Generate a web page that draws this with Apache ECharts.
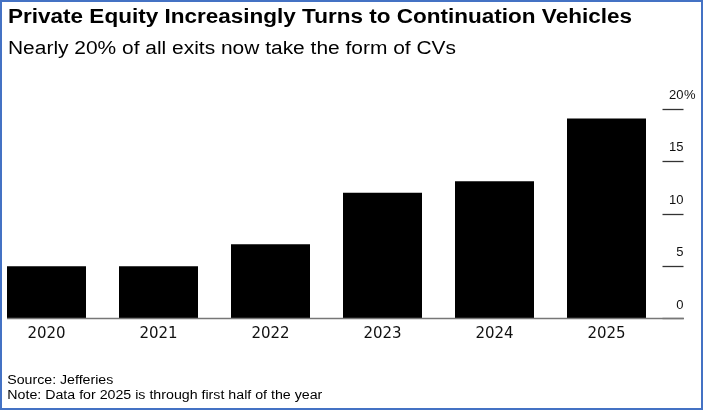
<!DOCTYPE html>
<html><head><meta charset="utf-8">
<script src="https://cdn.jsdelivr.net/npm/echarts@6/dist/echarts.min.js"></script>
<style>html,body{margin:0;padding:0;background:#fff}#c{width:705px;height:412px}</style>
</head><body><div id="c"></div>
<script>
const categories = ['2020','2021','2022','2023','2024','2025'];
const shareValues = [5.0, 5.0, 7.1, 12.0, 13.1, 19.1];
const yTicks = [0, 5, 10, 15, 20];
const titleText = 'Private Equity Increasingly Turns to Continuation Vehicles';
const subtitleText = 'Nearly 20% of all exits now take the form of CVs';
const sourceText = 'Source: Jefferies';
const noteText = 'Note: Data for 2025 is through first half of the year';

const cv = document.createElement('canvas').getContext('2d');
function fitScale(text, font, target) {
  cv.font = font;
  const w = cv.measureText(text).width;
  return target / w;
}
const FF = '"Liberation Sans", Arial, sans-serif';
function txt(text, x, y, size, weight, target, color) {
  const font = weight + ' ' + size + 'px ' + FF;
  return {
    type: 'text', x: x, y: y, scaleX: fitScale(text, font, target), scaleY: 1,
    style: { text: text, fontSize: size, fontWeight: weight, fontFamily: FF, fill: color || '#000',
      verticalAlign: 'top', align: 'left', lineHeight: size }
  };
}

const chart = echarts.init(document.getElementById('c'), null, { renderer: 'canvas' });
const option = {
  animation: false,
  backgroundColor: '#fff',
  grid: { left: -9.5, right: 42.5, top: 109, bottom: 412 - 318.5, containLabel: false, outerBoundsMode: 'none' },
  xAxis: {
    type: 'category', data: categories,
    axisLine: { show: false }, axisTick: { show: false },
    axisLabel: { color: '#111', fontSize: 15, fontFamily: '"DejaVu Sans", sans-serif', margin: 8 }
  },
  yAxis: {
    type: 'value', position: 'right', min: 0, max: 20, interval: 5,
    splitLine: { show: false }, axisLine: { show: false },
    axisTick: { show: true, inside: false, length: 21, lineStyle: { color: '#333', width: 1.3 } },
    axisLabel: {
      inside: false, margin: 21, align: 'right', verticalAlign: 'bottom',
      padding: [0, 0, 7, 0], color: '#111', fontSize: 13, fontFamily: FF, lineHeight: 13,
      formatter: function (v) { return String(v); }
    }
  },
  series: [{
    type: 'bar', data: shareValues, barWidth: 79,
    itemStyle: { color: '#000' }
  }]
};
chart.setOption(option);

const y0 = chart.convertToPixel({ yAxisIndex: 0 }, 0);
const yTop = chart.convertToPixel({ yAxisIndex: 0 }, yTicks[yTicks.length - 1]);
chart.setOption({
  graphic: [
    { type: 'rect', shape: { x: 1, y: 1, width: 701, height: 408 }, style: { fill: 'none', stroke: '#4472C4', lineWidth: 2 }, z: 100 },
    { type: 'line', shape: { x1: 7, y1: y0, x2: 684, y2: y0 }, style: { stroke: '#777', lineWidth: 1.5 }, z: 50 },
    { type: 'text', x: 684, y: yTop - 7, style: { text: '%', fontSize: 13, fontFamily: FF, fill: '#111', align: 'left', verticalAlign: 'bottom', lineHeight: 13 } },
    txt(titleText, 8, 7, 20, 'bold', 624),
    txt(subtitleText, 8, 39.6, 18, 'normal', 448),
    txt(sourceText, 7.3, 374.4, 12, 'normal', 106),
    txt(noteText, 7.3, 389.4, 12, 'normal', 315)
  ]
});
</script></body></html>
